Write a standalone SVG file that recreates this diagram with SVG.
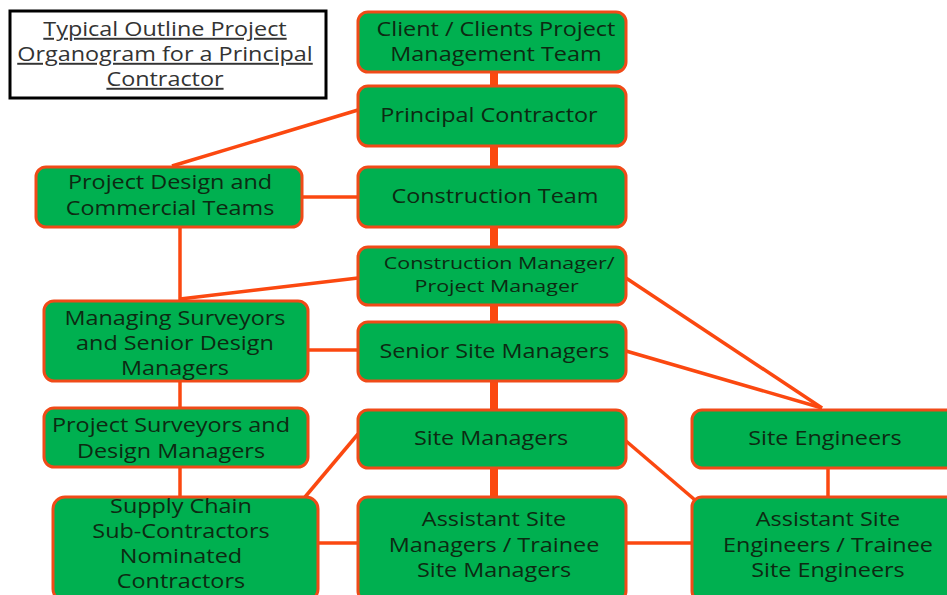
<svg xmlns="http://www.w3.org/2000/svg" width="947" height="595" viewBox="0 0 947 595">
<style>
.n{fill:#00b050;stroke:#f04a18;stroke-width:3}
.t{font-family:"Open Sans","Liberation Sans",sans-serif;font-size:19.5px;fill:#0d2a12;text-anchor:middle;transform:scale(1.2,1)}
.s{font-size:16.5px;transform:scale(1.3,1)}
.c{stroke:#fb4810;stroke-width:3.5;fill:none}
.sp{stroke:#fb4810;stroke-width:8;fill:none}
.ti{font-family:"Open Sans","Liberation Sans",sans-serif;font-size:19.5px;fill:#333;text-anchor:middle;text-decoration:underline;transform:scale(1.2,1)}
</style>
<rect width="947" height="595" fill="#fff"/>
<g id="title">
<rect x="10" y="11" width="316" height="87" fill="#fff" stroke="#000" stroke-width="3"/>
<text class="ti" x="137.5" y="36">Typical Outline Project</text>
<text class="ti" x="137.5" y="61">Organogram for a Principal</text>
<text class="ti" x="137.5" y="86">Contractor</text>
</g>
<g id="connectors">
<line class="sp" x1="494" y1="72" x2="494" y2="86"/>
<line class="sp" x1="494" y1="146" x2="494" y2="167"/>
<line class="sp" x1="494" y1="227" x2="494" y2="247"/>
<line class="sp" x1="494" y1="305" x2="494" y2="322"/>
<line class="sp" x1="494" y1="381" x2="494" y2="410"/>
<line class="sp" x1="494" y1="468" x2="494" y2="497"/>
<line class="c" x1="358" y1="110" x2="172" y2="166"/>
<line class="c" x1="302" y1="197" x2="358" y2="197"/>
<line class="c" x1="180" y1="227" x2="180" y2="301"/>
<line class="c" x1="358" y1="278" x2="180" y2="299"/>
<line class="c" x1="308" y1="350" x2="358" y2="350"/>
<line class="c" x1="180" y1="381" x2="180" y2="408"/>
<line class="c" x1="180" y1="467" x2="180" y2="496"/>
<line class="c" x1="358" y1="434" x2="305" y2="497"/>
<line class="c" x1="318" y1="543" x2="358" y2="543"/>
<line class="c" x1="626" y1="278" x2="822" y2="408"/>
<line class="c" x1="626" y1="351" x2="822" y2="408"/>
<line class="c" x1="626" y1="441" x2="695" y2="500"/>
<line class="c" x1="626" y1="543" x2="692" y2="543"/>
<line class="c" x1="828" y1="468" x2="828" y2="496"/>
</g>
<g id="client"><rect class="n" x="358" y="12" width="268" height="60" rx="10"/>
<text class="t" x="413.3" y="36">Client / Clients Project</text><text class="t" x="413.3" y="61">Management Team</text></g>
<g id="principal"><rect class="n" x="358" y="86" width="268" height="60" rx="10"/>
<text class="t" x="407.5" y="122">Principal Contractor</text></g>
<g id="construction-team"><rect class="n" x="358" y="167" width="268" height="60" rx="10"/>
<text class="t" x="412.5" y="203">Construction Team</text></g>
<g id="construction-manager"><rect class="n" x="358" y="247" width="268" height="58" rx="10"/>
<text class="t s" x="384" y="269">Construction Manager/</text><text class="t s" x="382" y="292">Project Manager</text></g>
<g id="senior-site-managers"><rect class="n" x="358" y="322" width="268" height="59" rx="10"/>
<text class="t" x="412" y="358">Senior Site Managers</text></g>
<g id="site-managers"><rect class="n" x="358" y="410" width="268" height="58" rx="10"/>
<text class="t" x="409.2" y="445">Site Managers</text></g>
<g id="assistant-site-managers"><rect class="n" x="358" y="497" width="268" height="104" rx="10"/>
<text class="t" x="411.7" y="526">Assistant Site</text><text class="t" x="411.7" y="552">Managers / Trainee</text><text class="t" x="411.7" y="577">Site Managers</text></g>
<g id="site-engineers"><rect class="n" x="692" y="410" width="270" height="58" rx="10"/>
<text class="t" x="687.5" y="445">Site Engineers</text></g>
<g id="assistant-site-engineers"><rect class="n" x="692" y="497" width="270" height="104" rx="10"/>
<text class="t" x="690" y="526">Assistant Site</text><text class="t" x="690" y="552">Engineers / Trainee</text><text class="t" x="690" y="577">Site Engineers</text></g>
<g id="project-design"><rect class="n" x="36" y="167" width="266" height="60" rx="10"/>
<text class="t" x="141.7" y="189">Project Design and</text><text class="t" x="141.7" y="215">Commercial Teams</text></g>
<g id="managing-surveyors"><rect class="n" x="44" y="301" width="264" height="80" rx="10"/>
<text class="t" x="145.8" y="325">Managing Surveyors</text><text class="t" x="145.8" y="350">and Senior Design</text><text class="t" x="145.8" y="375">Managers</text></g>
<g id="project-surveyors"><rect class="n" x="44" y="408" width="264" height="59" rx="10"/>
<text class="t" x="142.5" y="432">Project Surveyors and</text><text class="t" x="142.5" y="458">Design Managers</text></g>
<g id="supply-chain"><rect class="n" x="53" y="497" width="265" height="104" rx="12"/>
<text class="t" x="150.8" y="513">Supply Chain</text><text class="t" x="150.8" y="538">Sub-Contractors</text><text class="t" x="150.8" y="563">Nominated</text><text class="t" x="150.8" y="588">Contractors</text></g>
</svg>
